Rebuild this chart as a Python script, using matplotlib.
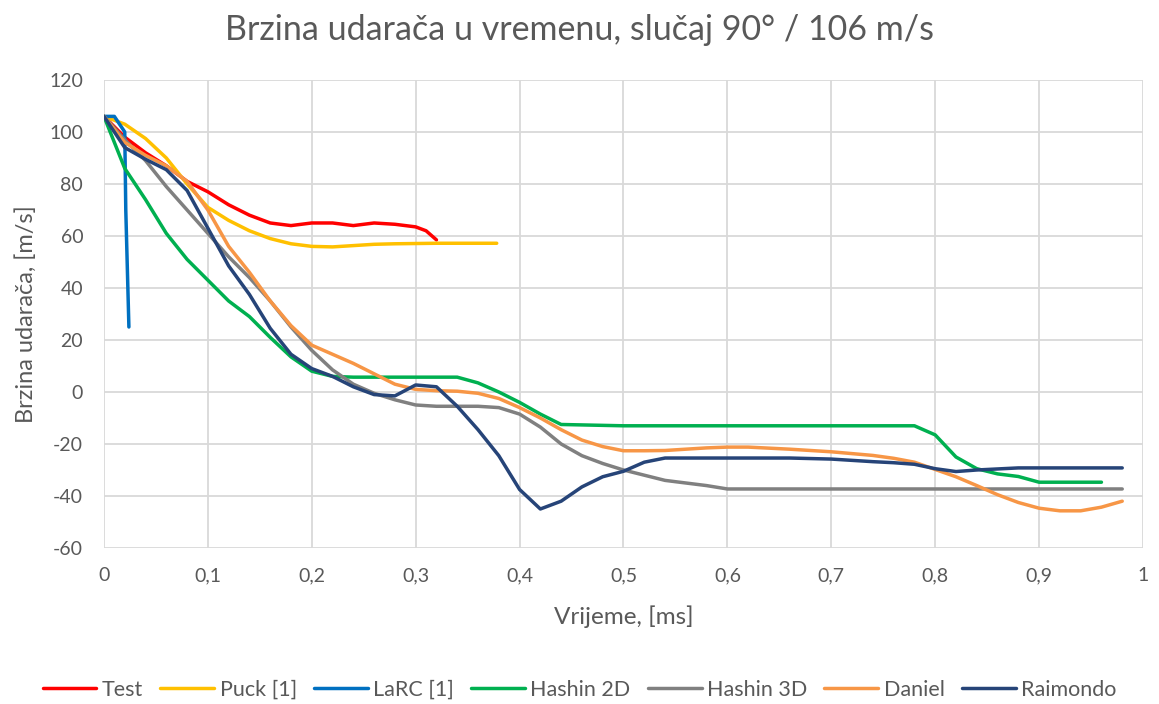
import matplotlib.pyplot as plt
from matplotlib.ticker import MultipleLocator, FuncFormatter

# vrijeme [ms] i brzina [m/s] za svaki model
t_test = [0, 0.02, 0.04, 0.06, 0.08, 0.1, 0.12, 0.14, 0.16, 0.18, 0.2, 0.22,
          0.24, 0.26, 0.28, 0.3, 0.31, 0.32]
v_test = [106, 98, 92, 87, 81, 77, 72, 68, 65, 64, 65, 65,
          64, 65, 64.5, 63.5, 62, 58.5]

t_puck = [0, 0.02, 0.04, 0.06, 0.08, 0.1, 0.12, 0.14, 0.16, 0.18, 0.2, 0.22,
          0.24, 0.26, 0.28, 0.3, 0.32, 0.34, 0.36, 0.378]
v_puck = [106, 103, 97.5, 90, 80, 71, 66, 62, 59, 57, 56, 55.8,
          56.3, 56.8, 57, 57.1, 57.2, 57.2, 57.2, 57.2]

t_larc = [0, 0.01, 0.02, 0.021, 0.022, 0.024]
v_larc = [106, 106, 100, 70, 55, 25]

t_h2d = [0, 0.02, 0.04, 0.06, 0.08, 0.1, 0.12, 0.14, 0.16, 0.18, 0.2, 0.22,
         0.24, 0.26, 0.28, 0.3, 0.32, 0.34, 0.36, 0.38, 0.4, 0.42, 0.44,
         0.5, 0.6, 0.7, 0.78, 0.8, 0.82, 0.84, 0.86, 0.88, 0.9, 0.92, 0.94, 0.96]
v_h2d = [106, 86, 74, 61, 51, 43, 35, 29, 21, 13.5, 8, 6,
         5.7, 5.7, 5.7, 5.7, 5.7, 5.7, 3.5, 0, -4, -8.5, -12.5,
         -13, -13, -13, -13, -16.5, -25, -29.5, -31.5, -32.5, -34.7, -34.7, -34.7, -34.7]

t_h3d = [0, 0.02, 0.04, 0.06, 0.08, 0.1, 0.12, 0.14, 0.16, 0.18, 0.2, 0.22,
         0.24, 0.26, 0.28, 0.3, 0.32, 0.34, 0.36, 0.38, 0.4, 0.42, 0.44, 0.46,
         0.48, 0.5, 0.52, 0.54, 0.56, 0.58, 0.6, 0.7, 0.8, 0.9, 0.98]
v_h3d = [106, 97, 89, 79, 70, 61, 52, 44, 35, 25, 16, 8.5,
         3, -0.5, -3, -5, -5.5, -5.5, -5.5, -6, -8.5, -13.5, -20, -24.5,
         -27.5, -30, -32, -34, -35, -36, -37.3, -37.3, -37.3, -37.3, -37.3]

t_daniel = [0, 0.02, 0.04, 0.06, 0.08, 0.1, 0.12, 0.14, 0.16, 0.18, 0.2, 0.22,
            0.24, 0.26, 0.28, 0.3, 0.32, 0.34, 0.36, 0.38, 0.4, 0.42, 0.44, 0.46,
            0.48, 0.5, 0.52, 0.54, 0.56, 0.58, 0.6, 0.62, 0.64, 0.66, 0.68, 0.7,
            0.72, 0.74, 0.76, 0.78, 0.8, 0.82, 0.84, 0.86, 0.88, 0.9, 0.92, 0.94,
            0.96, 0.98]
v_daniel = [106, 96, 91, 87, 81, 70, 56, 46, 35, 25.5, 18, 14.5,
            11, 7, 3, 1, 0.5, 0.3, -0.5, -2.5, -6, -10, -14.5, -18.5,
            -21, -22.6, -22.6, -22.5, -22, -21.5, -21.2, -21.2, -21.6, -22, -22.5, -23,
            -23.7, -24.4, -25.5, -27, -29.8, -32.6, -36, -39.5, -42.5, -44.7, -45.7, -45.7,
            -44.3, -42]

t_raim = [0, 0.02, 0.04, 0.06, 0.08, 0.1, 0.12, 0.14, 0.16, 0.18, 0.2, 0.22,
          0.24, 0.26, 0.28, 0.3, 0.32, 0.34, 0.36, 0.38, 0.4, 0.42, 0.44, 0.46,
          0.48, 0.5, 0.52, 0.54, 0.6, 0.66, 0.68, 0.7, 0.72, 0.74, 0.76, 0.78,
          0.8, 0.82, 0.84, 0.86, 0.88, 0.9, 0.98]
v_raim = [106, 94, 89.5, 85.5, 77.5, 63, 48.5, 37.5, 24.5, 14.5, 9, 6,
          2, -1, -1.5, 2.7, 2, -5.5, -14.5, -24.5, -37.5, -45, -42, -36.5,
          -32.6, -30.5, -27, -25.4, -25.4, -25.4, -25.6, -25.8, -26.3, -26.8, -27.2, -27.8,
          -29.5, -30.6, -30, -29.6, -29.2, -29.2, -29.2]

serije = [
    ('Test', t_test, v_test, '#FF0000'),
    ('Puck [1]', t_puck, v_puck, '#FFC000'),
    ('LaRC [1]', t_larc, v_larc, '#0070C0'),
    ('Hashin 2D', t_h2d, v_h2d, '#00B050'),
    ('Hashin 3D', t_h3d, v_h3d, '#808080'),
    ('Daniel', t_daniel, v_daniel, '#F79646'),
    ('Raimondo', t_raim, v_raim, '#264478'),
]

plt.rcParams['font.family'] = ['Lato', 'DejaVu Sans']
plt.rcParams['axes.unicode_minus'] = False
siva = '#595959'

fig = plt.figure(figsize=(11.59, 7.04), dpi=100)
ax = fig.add_axes([0.0897, 0.2216, 0.8965, 0.6648])

for ime, t, v, boja in serije:
    ax.plot(t, v, color=boja, linewidth=2.5, label=ime,
            solid_capstyle='round', solid_joinstyle='round')

ax.set_xlim(0, 1)
ax.set_ylim(-60, 120)
ax.xaxis.set_major_locator(MultipleLocator(0.1))
ax.yaxis.set_major_locator(MultipleLocator(20))
ax.xaxis.set_major_formatter(FuncFormatter(lambda x, p: ('%g' % round(x, 1)).replace('.', ',')))
ax.grid(True, color='#D9D9D9', linewidth=1.3)
ax.set_axisbelow(True)
for s in ax.spines.values():
    s.set_visible(False)
ax.tick_params(length=0, labelsize=14, colors=siva)
ax.tick_params(axis='x', pad=14)
ax.tick_params(axis='y', pad=15)

fig.text(0.5, 0.957, 'Brzina udarača u vremenu, slučaj 90° / 106 m/s',
         fontsize=24.5, color=siva, ha='center', va='center')
ax.set_xlabel('Vrijeme, [ms]', fontsize=17.5, color=siva, labelpad=15)
ax.set_ylabel('Brzina udarača, [m/s]', fontsize=17, color=siva, labelpad=9)

fig.legend(loc='center', bbox_to_anchor=(0.5, 0.02), ncol=7, frameon=False,
           fontsize=15.5, handlelength=2.5, columnspacing=0.8, handletextpad=0.25,
           labelcolor=siva)

fig.savefig('out.png', dpi=100)
